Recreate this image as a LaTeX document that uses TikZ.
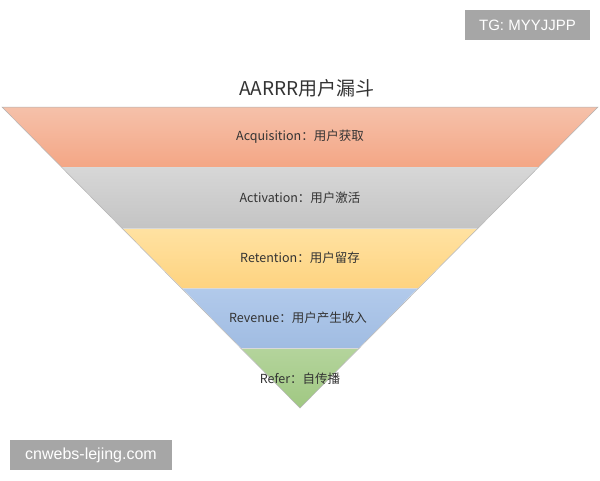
\documentclass[tikz,border=0pt]{standalone}
\usepackage{fontspec}
\setmainfont{Noto Sans CJK SC}
\newfontfamily\wmfont{Liberation Sans}
\begin{document}
\begin{tikzpicture}[x=1pt,y=-1pt,
  band/.style={draw=white,line width=0.8pt},
  lbl/.style={font=\fontsize{12.5}{14}\selectfont,text=black!80,inner sep=0pt},
  wm/.style={fill=black!35,text=white,font=\wmfont\fontsize{15}{17}\selectfont,inner sep=0pt,minimum height=30pt,anchor=center}]
\useasboundingbox (0,0) rectangle (600,480);
\fill[white] (0,0) rectangle (600,480);
% bands
\shade[top color={rgb,255:red,245;green,193;blue,170},bottom color={rgb,255:red,244;green,166;blue,133}]
  (2,107) -- (598,107) -- (538,167.5) -- (62,167.5) -- cycle;
\shade[top color={rgb,255:red,215;green,215;blue,215},bottom color={rgb,255:red,196;green,196;blue,196}]
  (62,167.5) -- (538,167.5) -- (478,228) -- (122,228) -- cycle;
\shade[top color={rgb,255:red,255;green,226;blue,162},bottom color={rgb,255:red,254;green,211;blue,128}]
  (122,228) -- (478,228) -- (418,288) -- (182,288) -- cycle;
\shade[top color={rgb,255:red,178;green,202;blue,235},bottom color={rgb,255:red,160;green,188;blue,226}]
  (182,288) -- (418,288) -- (359,348) -- (241,348) -- cycle;
\shade[top color={rgb,255:red,180;green,212;blue,156},bottom color={rgb,255:red,160;green,200;blue,130}]
  (241,348) -- (359,348) -- (300,408) -- cycle;
% separators
\draw[white!85!black,line width=0.6pt] (62,167.5) -- (538,167.5);
\draw[white!85!black,line width=0.6pt] (122,228) -- (478,228);
\draw[white!85!black,line width=0.6pt] (182,288) -- (418,288);
\draw[white!85!black,line width=0.6pt] (241,348) -- (359,348);
\draw[black!30,line width=0.5pt] (2,107) -- (300,408) -- (598,107) -- cycle;
% title
\node[font=\fontsize{19}{21}\selectfont,text=black!80] (title) at (307,88) {AARRR用户漏斗};
% labels
\node[lbl] (acq) at (300,137) {Acquisition：用户获取};
\node[lbl] (act) at (300,197.5) {Activation：用户激活};
\node[lbl] (ret) at (300,258) {Retention：用户留存};
\node[lbl] (rev) at (298,318) {Revenue：用户产生收入};
\node[lbl] (ref) at (300,379) {Refer：自传播};
% watermarks
\node[wm,minimum width=125pt] (tg) at (527.5,25) {TG: MYYJJPP};
\node[wm,minimum width=162pt,font=\wmfont\fontsize{16}{18}\selectfont] (cn) at (91,455) {cnwebs-lejing.com};
\end{tikzpicture}
\end{document}
